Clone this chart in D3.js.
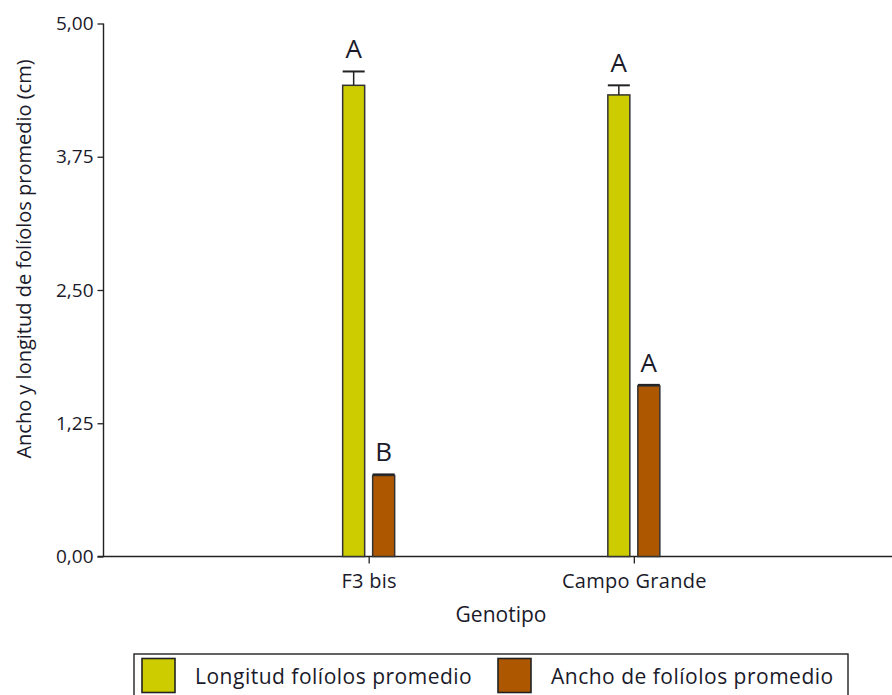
<!DOCTYPE html>
<html><head><meta charset="utf-8">
<script src="https://cdn.jsdelivr.net/npm/d3@7"></script>
<style>body{margin:0;background:#fff}svg{display:block}text{font-family:"Open Sans",sans-serif;fill:#1a1a2a}</style>
</head><body><svg width="892" height="695"></svg>
<script>
const categories = ["F3 bis", "Campo Grande"];
const seriesNames = ["Longitud folíolos promedio", "Ancho de folíolos promedio"];
const longitud = [4.42, 4.33];
const longitudErr = [0.13, 0.09];
const ancho = [0.76, 1.60];
const anchoErr = [0.01, 0.01];
const letrasLongitud = ["A", "A"];
const letrasAncho = ["B", "A"];
const yTicks = [0, 1.25, 2.5, 3.75, 5];
const colors = ["#cccc00", "#ad5700"];

const svg = d3.select("svg");
const x0 = 103.5, yBase = 556.5, yTop = 23.5;
const x = d3.scalePoint().domain(categories).range([x0, 899]).padding(1);
const y = d3.scaleLinear().domain([0, 5]).range([yBase, yTop]);
const fmt = d => d.toFixed(2).replace(".", ",");

// Y axis
const ya = svg.append("g").attr("transform", `translate(${x0},0)`)
  .call(d3.axisLeft(y).tickValues(yTicks).tickFormat(fmt).tickSize(6).tickPadding(4));
ya.select(".domain").attr("stroke", "#222").attr("stroke-width", 1.4).attr("d", `M0,${yTop}V${yBase}`);
ya.selectAll(".tick line").attr("stroke", "#222").attr("stroke-width", 1.3);
ya.selectAll(".tick text").style("font-size", "19px").attr("fill", "#1a1a2a");

// X axis
const xa = svg.append("g").attr("transform", `translate(0,${yBase})`)
  .call(d3.axisBottom(x).tickSize(7).tickPadding(10));
xa.select(".domain").attr("stroke", "#222").attr("stroke-width", 1.4).attr("d", `M${x0-6},0H892`);
xa.selectAll(".tick line").attr("stroke", "#222").attr("stroke-width", 1.3);
xa.selectAll(".tick text").style("font-size", "20px").style("letter-spacing", "0.3px").attr("fill", "#1a1a2a");

const bw = 22, gap = 8;
const series = [
  {vals: longitud, err: longitudErr, letters: letrasLongitud, off: -(bw + gap) / 2},
  {vals: ancho, err: anchoErr, letters: letrasAncho, off: (bw + gap) / 2}
];
series.forEach((s, si) => {
  const g = svg.append("g");
  categories.forEach((c, i) => {
    const cx = x(c) + s.off;
    const v = s.vals[i], e = s.err[i];
    g.append("rect").attr("x", cx - bw / 2).attr("y", y(v)).attr("width", bw).attr("height", y(0) - y(v))
      .attr("fill", colors[si]).attr("stroke", "#333").attr("stroke-width", 1.5);
    g.append("line").attr("x1", cx).attr("x2", cx).attr("y1", y(v)).attr("y2", y(v + e)).attr("stroke", "#222").attr("stroke-width", 1.5);
    g.append("line").attr("x1", cx - bw / 2).attr("x2", cx + bw / 2).attr("y1", y(v + e)).attr("y2", y(v + e)).attr("stroke", "#222").attr("stroke-width", 2);
    g.append("text").attr("x", cx).attr("y", y(v + e) - 13).attr("text-anchor", "middle")
      .style("font-size", "26px").text(s.letters[i]);
  });
});

// Axis titles
svg.append("text").attr("x", 501).attr("y", 622).attr("text-anchor", "middle").style("font-size", "21px").text("Genotipo");
svg.append("text").attr("transform", `translate(31,259) rotate(-90)`).attr("text-anchor", "middle")
  .style("font-size", "20px").text("Ancho y longitud de folíolos promedio (cm)");

// Legend
const lg = svg.append("g");
lg.append("rect").attr("x", 134).attr("y", 654).attr("width", 714).attr("height", 48).attr("fill", "none").attr("stroke", "#222").attr("stroke-width", 1.4);
const legX = [142, 498];
seriesNames.forEach((n, i) => {
  lg.append("rect").attr("x", legX[i]).attr("y", 658.5).attr("width", 33).attr("height", 34).attr("fill", colors[i]).attr("stroke", "#222").attr("stroke-width", 1.6);
  lg.append("text").attr("x", legX[i] + 53).attr("y", 684).style("font-size", "21px").style("letter-spacing", "0.5px").text(n);
});
</script></body></html>
